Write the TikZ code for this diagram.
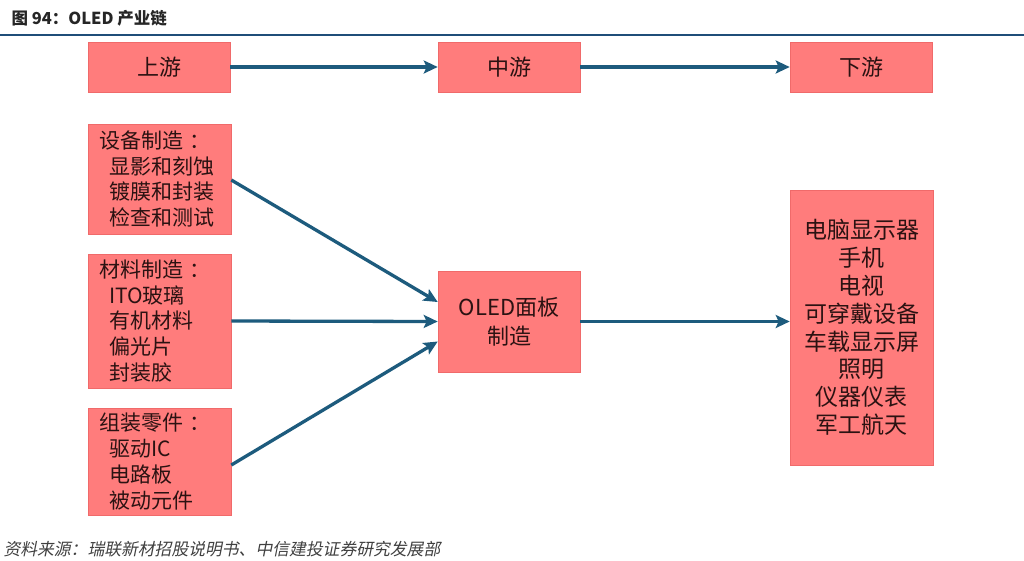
\documentclass[tikz,border=0pt]{standalone}
\usepackage{fontspec}
\setmainfont{Noto Sans CJK SC}
\newfontfamily\footfont{Noto Sans CJK SC}[FakeSlant=0.2]
\usetikzlibrary{arrows.meta,calc}
\definecolor{boxfill}{HTML}{FF7C7C}
\definecolor{boxline}{HTML}{F06A6A}
\definecolor{arrowc}{HTML}{1D5B7D}
\definecolor{rulec}{HTML}{1F4E79}
\definecolor{txt}{HTML}{2B1212}
\definecolor{footc}{HTML}{404040}
\begin{document}
\begin{tikzpicture}[x=1pt,y=-1pt,
  box/.style={fill=boxfill,draw=boxline,line width=0.6pt,text=txt,inner sep=0pt},
  topbox/.style={box,minimum width=142pt,minimum height=50pt,font=\fontsize{22}{26}\selectfont},
  leftbox/.style={box,text width=121pt,inner xsep=11pt,align=left,font=\fontsize{21}{25.8}\selectfont},
  conn/.style={draw=arrowc,line width=3.3pt,-{Stealth[length=14pt,width=13pt,inset=3pt]}}
]
\useasboundingbox (0,0) rectangle (1024,560);
\fill[white] (0,0) rectangle (1024,560);
\node[anchor=west,font=\bfseries\fontsize{16.5}{18}\selectfont,text=black!85] (title) at (8,18) {图 94：OLED 产业链};
\draw[rulec,line width=2.2pt] (0,35) -- (1024,35);

\node[topbox] (up) at (159,67) {上游};
\node[topbox] (mid) at (509,67) {中游};
\node[topbox] (down) at (861,67) {下游};

\node[leftbox,minimum height=110pt] (dev) at (159.5,179) {设备制造 ：\\\hspace*{10pt}显影和刻蚀\\\hspace*{10pt}镀膜和封装\\\hspace*{10pt}检查和测试};
\node[leftbox,minimum height=134pt] (mat) at (159.5,321) {材料制造 ：\\\hspace*{10pt}ITO玻璃\\\hspace*{10pt}有机材料\\\hspace*{10pt}偏光片\\\hspace*{10pt}封装胶};
\node[leftbox,minimum height=107pt] (asm) at (159.5,461.5) {组装零件 ：\\\hspace*{10pt}驱动IC\\\hspace*{10pt}电路板\\\hspace*{10pt}被动元件};

\node[box,minimum width=142pt,minimum height=101pt,align=center,font=\fontsize{22}{29}\selectfont] (oled) at (509,321.5) {OLED面板\\制造};
\node[box,minimum width=143pt,minimum height=275pt,align=center,font=\fontsize{23}{27.8}\selectfont] (app) at (861.5,327.5) {电脑显示器\\手机\\电视\\可穿戴设备\\车载显示屏\\照明\\仪器仪表\\军工航天};

\draw[conn] (up.east) -- (mid.west);
\draw[conn] (mid.east) -- (down.west);
\draw[conn] ([yshift=-1pt]dev.east) -- ([yshift=19.5pt]oled.west);
\draw[conn] (mat.east) -- (oled.west);
\draw[conn] ([yshift=-3.5pt]asm.east) -- ([yshift=-20pt]oled.west);
\draw[conn] (oled.east) -- (oled.east -| app.west);

\node[anchor=west,font=\footfont\fontsize{16.8}{18}\selectfont,text=footc] (foot) at (0,549) {资料来源：瑞联新材招股说明书、中信建投证券研究发展部};
\end{tikzpicture}
\end{document}
